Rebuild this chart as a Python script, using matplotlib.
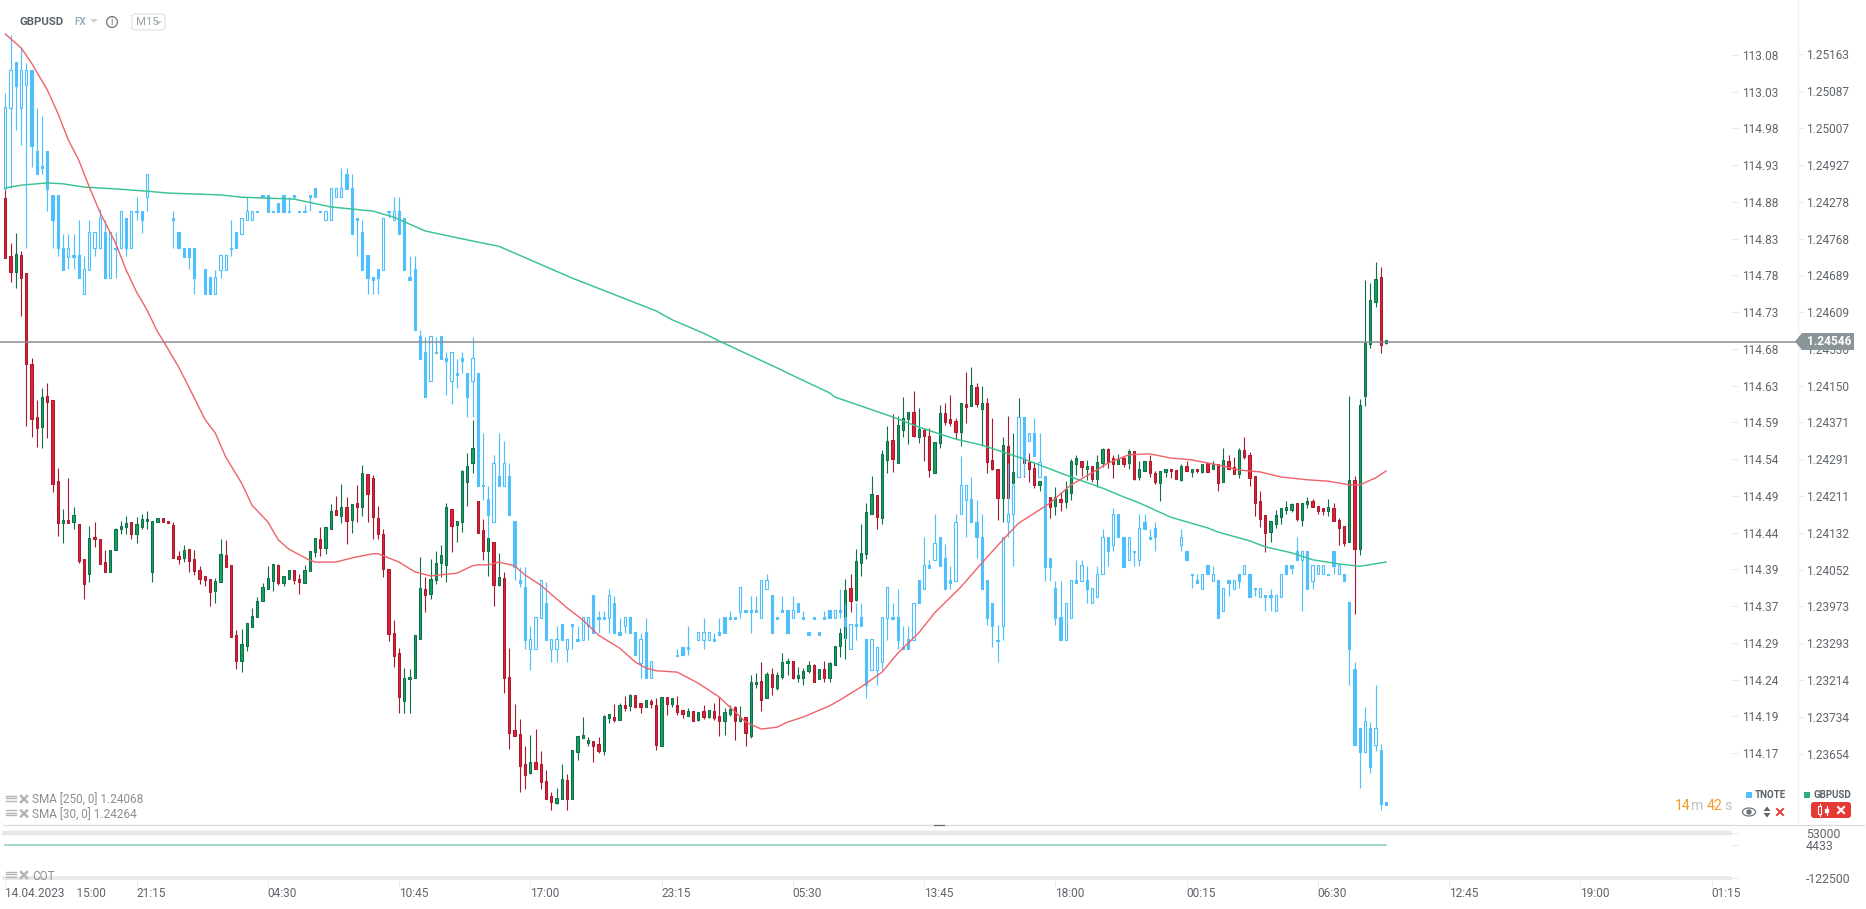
import numpy as np
import matplotlib
matplotlib.use('Agg')
import matplotlib.pyplot as plt
from matplotlib.patches import Polygon, Rectangle, FancyBboxPatch, Circle, Ellipse
from matplotlib.lines import Line2D
from matplotlib.transforms import IdentityTransform

plt.rcParams['font.family'] = ['Roboto', 'DejaVu Sans']

n = float('nan')

# GBPUSD M15, in points above 1.20000
gbp_high = [4874,4759,4781,4742,4694,4510,4419,4445,4456,4419,
4272,4184,4251,4188,4151,4076,4147,4156,4119,4095,
4095,4143,4158,4169,4156,4167,4173,4179,4158,4164,
4164,4158,4156,4093,4106,4097,4095,4061,4039,4032,
4035,4119,4117,4063,3922,3924,3937,3970,3994,4024,
4061,4065,4065,4039,4052,4052,4043,4063,4093,4121,
4145,4145,4195,4212,4238,4210,4195,4236,4279,4259,
4257,4190,4141,4054,3944,3883,3840,3838,3911,4080,
4037,4076,4093,4106,4197,4184,4158,4268,4305,4376,
4201,4162,4121,4112,4089,4048,3883,3762,3730,3671,
3695,3708,3660,3619,3572,3580,3632,3611,3663,3693,
3734,3691,3682,3691,3738,3740,3762,3764,3779,3784,
3782,3764,3771,3773,3775,3777,3777,3775,3779,3749,
3753,3747,3745,3760,3749,3764,3777,3753,3760,3758,
3758,3734,3825,3829,3853,3831,3840,3831,3872,3862,
3855,3842,3840,3855,3849,3838,3855,3853,3887,3926,
4032,4043,4097,4151,4197,4255,4214,4311,4363,4389,
4385,4426,4394,4439,4402,4359,4359,4329,4409,4413,
4430,4381,4413,4480,4491,4456,4450,4424,4381,4270,
4339,4385,4348,4424,4311,4305,4285,4244,4238,4210,
4231,4221,4244,4292,4301,4288,4290,4277,4301,4316,
4316,4301,4303,4298,4314,4309,4288,4288,4301,4266,
4266,4270,4270,4268,4281,4288,4270,4270,4281,4283,
4288,4281,4316,4301,4296,4316,4339,4307,4255,4223,
4171,4158,4182,4186,4201,4197,4197,4197,4210,4205,
4190,4186,4205,4197,4164,4147,4428,4255,4422,4679,
4672,4718,4707,4549]
gbp_top = [4856,4731,4735,4733,4694,4497,4383,4426,4428,4419,
4244,4160,4160,4171,4151,4076,4121,4123,4119,4069,
4095,4141,4147,4154,4156,4151,4162,4162,4158,4164,
4164,4158,4149,4082,4095,4097,4076,4052,4039,4032,
4028,4086,4084,4063,3911,3892,3937,3952,3985,4015,
4035,4065,4063,4039,4052,4052,4032,4052,4093,4121,
4119,4145,4180,4182,4188,4188,4195,4197,4262,4259,
4251,4164,4130,4054,3916,3872,3818,3821,3911,4013,
4011,4032,4067,4084,4188,4184,4158,4266,4277,4316,
4201,4138,4121,4112,4037,4035,3820,3706,3697,3632,
3637,3637,3632,3596,3563,3559,3600,3598,3663,3693,
3695,3684,3682,3676,3736,3740,3734,3760,3760,3782,
3782,3764,3771,3769,3760,3777,3777,3775,3760,3749,
3747,3747,3745,3747,3749,3747,3736,3745,3751,3756,
3734,3734,3810,3810,3812,3827,3827,3825,3853,3855,
3855,3825,3833,3846,3846,3838,3838,3851,3887,3916,
4009,4013,4071,4089,4177,4216,4214,4303,4331,4333,
4365,4381,4394,4394,4357,4355,4342,4329,4391,4391,
4378,4374,4413,4411,4452,4448,4413,4413,4290,4270,
4322,4320,4264,4383,4311,4285,4272,4244,4238,4210,
4210,4205,4227,4288,4294,4288,4277,4277,4285,4314,
4314,4294,4292,4294,4309,4309,4270,4288,4288,4262,
4266,4270,4270,4268,4277,4277,4270,4270,4281,4283,
4281,4281,4290,4288,4275,4311,4311,4301,4255,4201,
4171,4158,4171,4186,4188,4195,4197,4197,4201,4201,
4190,4186,4188,4186,4160,4147,4247,4247,4409,4543,
4636,4681,4685,4549]
gbp_bottom = [4727,4696,4696,4683,4497,4378,4359,4361,4415,4238,
4154,4154,4154,4156,4071,4022,4043,4119,4065,4048,
4048,4095,4141,4145,4130,4130,4145,4158,4048,4156,
4156,4154,4078,4076,4078,4071,4050,4032,4030,4004,
4006,4026,4058,3907,3855,3855,3888,3929,3950,3985,
4011,4028,4024,4024,4032,4030,4026,4024,4050,4091,
4099,4099,4141,4171,4169,4158,4160,4188,4188,4216,
4166,4130,4054,3913,3866,3777,3769,3816,3818,3903,
3998,4000,4030,4067,4063,4147,4149,4156,4242,4283,
4132,4093,4093,4019,4019,3818,3699,3693,3628,3609,
3613,3622,3593,3557,3550,3548,3557,3557,3557,3658,
3689,3678,3671,3660,3660,3732,3727,3727,3753,3758,
3756,3756,3756,3762,3673,3671,3762,3762,3745,3741,
3736,3725,3727,3734,3734,3732,3725,3725,3741,3725,
3725,3699,3693,3805,3771,3775,3799,3797,3820,3851,
3818,3818,3818,3833,3810,3816,3818,3818,3846,3887,
3905,3985,3987,4067,4086,4173,4166,4164,4290,4292,
4283,4355,4378,4342,4339,4342,4268,4262,4327,4372,
4370,4350,4350,4404,4407,4411,4400,4285,4270,4208,
4208,4208,4240,4333,4283,4270,4236,4236,4210,4188,
4190,4199,4199,4218,4281,4275,4270,4249,4249,4283,
4285,4281,4281,4281,4283,4249,4253,4266,4262,4242,
4240,4264,4266,4249,4247,4266,4264,4266,4264,4264,
4270,4240,4242,4270,4259,4259,4296,4251,4197,4162,
4132,4134,4151,4166,4182,4182,4162,4160,4195,4188,
4179,4179,4179,4158,4143,4110,4112,4097,4097,4428,
4541,4631,4538,4543]
gbp_low = [4727,4675,4662,4601,4363,4339,4318,4316,4337,4221,
4125,4110,4154,4141,4067,3989,4026,4102,4065,4048,
4048,4095,4130,4130,4119,4110,4141,4141,4026,4156,
4156,4154,4078,4065,4069,4048,4041,4022,4017,3974,
3980,4026,4058,3907,3838,3831,3877,3929,3950,3985,
4011,4006,4019,4017,4032,4022,4000,4024,4050,4080,
4082,4087,4141,4171,4154,4108,4132,4156,4169,4156,
4119,4119,4037,3898,3842,3743,3743,3743,3818,3903,
3961,3989,4022,4037,4026,4091,4113,4134,4190,4262,
4132,4074,4039,3974,4017,3786,3665,3693,3572,3578,
3611,3622,3578,3557,3533,3546,3557,3533,3557,3641,
3689,3671,3637,3656,3652,3721,3723,3727,3747,3747,
3753,3743,3756,3753,3663,3671,3738,3756,3738,3732,
3736,3725,3725,3730,3732,3727,3693,3695,3736,3684,
3723,3671,3689,3797,3747,3775,3782,3792,3816,3825,
3816,3810,3803,3829,3810,3816,3810,3810,3846,3864,
3859,3961,3985,4039,4076,4173,4141,4151,4262,4264,
4283,4339,4324,4339,4327,4288,4253,4262,4316,4365,
4363,4335,4320,4370,4407,4404,4320,4262,4268,4160,
4156,4208,4238,4333,4253,4242,4229,4223,4210,4164,
4171,4180,4186,4203,4257,4255,4247,4242,4231,4275,
4272,4251,4281,4275,4270,4247,4247,4266,4253,4238,
4201,4253,4251,4249,4244,4266,4253,4262,4262,4264,
4270,4223,4242,4270,4259,4251,4292,4234,4169,4145,
4091,4113,4143,4151,4173,4177,4158,4147,4186,4188,
4173,4171,4169,4158,4106,4104,4112,3957,4084,4407,
4532,4621,4521,4541]
gbp_dir = ("rrgrrrrgrr" "rgrgrrgrrr" "ggggrggggg" "rrrrgrrrrr" "ggrrrggggg"
           "ggrggrrggg" "rggrgrgrgr" "rrrrrrgggg" "rggggrgggg" "rrgrgrrrrr"
           "grrrrggrgg" "ggrrggrgrg" "rrgrrgrgrr" "grgrgrrggr" "grggrgrggg"
           "rgggrgrggg" "grggggrggr" "gggrgrrggr" "rrgrgrgrrr" "grggrrrggr"
           "grgggrgrgg" "rrgrgrggrr" "ggrrgrgrgr" "grgrrgrrrr" "rgggggrggr"
           "rrgrrrgrgg" "ggrg")

# TNOTE, in thousandths above 114, gaps where the market had no bar
tn_high = [1030,1109,1072,1092,1071,1061,1010,1000,952,893,
893,841,841,841,860,811,860,843,874,860,
843,843,872,862,872,891,872,922,n,n,
n,n,871,843,822,822,822,n,793,782,
792,812,812,860,843,862,891,872,872,893,
893,872,882,893,891,893,872,880,893,902,
872,872,902,902,930,930,921,862,860,812,
782,793,862,872,891,891,862,811,811,711,
702,703,702,703,682,682,672,682,653,702,
653,572,501,543,572,562,532,454,392,392,
313,324,374,372,295,313,315,295,315,313,
324,324,354,333,333,363,353,323,324,324,
304,303,323,265,n,n,n,n,282,284,
313,n,304,323,304,303,323,324,333,324,
365,334,353,353,374,382,354,324,353,334,
353,344,333,304,324,304,333,334,334,363,
343,315,343,343,295,295,284,324,365,343,
363,313,313,344,374,432,402,463,433,423,
393,463,542,503,513,482,463,374,344,314,
433,532,505,594,594,573,592,572,514,404,
373,373,344,374,402,402,393,364,393,443,
433,472,464,433,433,414,463,463,443,452,
n,n,n,n,443,414,383,382,383,394,
393,374,364,374,374,383,394,383,364,364,
354,363,354,383,394,394,432,414,414,394,
394,394,383,414,394,383,345,264,175,203,
183,233,154,75]
tn_top = [1011,1061,1072,1061,1061,1061,952,932,952,893,
893,822,822,812,812,793,843,843,862,843,
843,822,872,862,872,872,872,922,n,n,
n,n,862,843,822,822,822,n,793,782,
782,812,812,822,843,862,872,872,872,893,
893,872,882,893,872,893,872,872,893,902,
872,872,902,902,902,922,902,862,843,812,
782,793,862,872,872,872,862,782,793,703,
682,703,682,703,673,682,653,673,653,673,
653,503,483,532,515,532,515,454,374,365,
295,324,374,344,295,295,315,295,315,295,
324,324,354,324,324,354,344,304,324,324,
304,295,304,265,n,n,n,n,274,284,
284,n,304,304,304,295,304,324,324,324,
365,334,334,334,374,374,354,324,334,334,
334,344,324,304,324,304,324,334,334,334,
324,315,315,324,295,295,284,324,365,324,
324,284,295,344,374,394,394,424,433,404,
374,453,503,503,483,453,433,374,344,294,
433,464,503,594,594,573,573,533,514,404,
364,324,344,374,374,394,374,364,383,433,
433,464,464,433,433,414,444,453,433,444,
n,n,n,n,433,414,383,374,383,394,
383,374,364,374,374,383,394,383,364,364,
354,354,354,383,394,394,414,414,414,394,
394,394,383,414,394,383,345,255,175,185,
175,175,145,75]
tn_bottom = [901,1010,1040,1010,1041,959,921,929,901,860,
821,792,810,809,781,760,792,822,821,781,
781,820,821,821,821,870,860,891,n,n,
n,n,859,821,810,810,781,n,760,760,
760,792,792,820,821,841,860,860,870,890,
870,870,870,870,870,890,870,870,890,891,
870,860,860,891,891,901,841,859,792,781,
779,781,792,870,860,841,792,779,711,672,
621,642,680,672,670,642,650,670,621,642,
501,501,462,452,501,501,462,392,371,293,
282,282,323,293,282,282,293,282,312,292,
293,313,303,322,322,323,303,301,313,303,
273,262,243,243,n,n,n,n,272,273,
282,n,293,293,293,292,301,303,322,322,
332,331,331,331,323,363,303,322,331,303,
323,332,322,301,322,301,322,323,323,331,
313,282,312,313,233,253,253,264,323,322,
293,282,282,293,343,363,391,402,393,363,
371,373,463,482,452,432,363,323,313,292,
313,452,463,513,537,562,542,513,392,392,
323,293,293,323,371,373,363,343,352,382,
413,422,432,392,402,412,402,443,430,432,
n,n,n,n,422,402,381,371,363,382,
373,323,333,371,363,373,382,352,362,352,
351,351,333,352,382,391,402,402,363,373,
382,382,381,393,382,373,282,152,143,143,
123,152,73,71]
tn_low = [901,902,981,960,821,931,921,921,872,822,
811,792,793,793,781,760,792,811,821,781,
781,781,821,811,821,860,842,872,n,n,
n,n,821,821,810,793,760,n,760,760,
760,781,792,811,821,841,860,860,870,890,
870,870,870,870,870,890,870,870,872,891,
870,860,860,891,891,901,841,811,792,760,
760,760,792,862,860,841,792,779,711,672,
621,642,680,672,623,612,633,653,594,594,
501,482,431,452,501,501,462,374,365,282,
253,282,323,293,264,264,293,264,282,292,
293,293,303,303,322,303,303,301,303,303,
273,243,243,243,n,n,n,n,272,273,
273,n,293,282,293,292,301,303,322,322,
323,331,303,331,323,363,303,322,331,303,
323,332,322,301,322,301,322,323,323,323,
295,282,293,313,215,253,233,253,293,322,
282,282,282,293,343,363,391,402,393,363,
363,373,463,433,452,404,363,314,284,264,
294,433,393,513,514,562,542,513,373,373,
314,293,293,323,371,373,344,343,352,382,
393,413,432,392,402,393,393,443,430,414,
n,n,n,n,413,402,364,371,363,382,
373,323,333,353,363,364,382,352,353,352,
333,333,333,352,382,382,402,333,363,363,
382,382,381,382,382,373,233,152,94,143,
115,144,65,71]
tn_kind = ("hhfhhfffff" "ffhffhhhhf" "hfhfhffh--" "--fffff-ff" "hhhffhhhff"
           "ffffffffff" "fhhhhfffff" "ffhfhfffff" "fhfffhfffh" "fffhfhffff"
           "hhhfhhfhff" "hhfffhffhf" "fhfh----ff" "f-hhhfffff" "hfffhhffff"
           "hfffffffhf" "fhfffhhhhf" "fffhfhfhff" "fhhhffffff" "hhhhfhfhff"
           "ffhhfhfhhh" "fhffhfhfff" "----hfffhf" "hfhfhfhffh" "ffhhfffhfh"
           "hhffhffffh" "fhff")

# moving averages, bar number and value read at that bar
sma30_bar = [0,3,5,8,10,12,14,16,18,21,23,25,27,29,30,33,34,36,38,40,42,45,47,50,52,54,58,59,63,66,70,71,75,78,81,86,89,
             90,92,94,97,99,102,107,110,113,117,120,122,124,128,132,136,139,141,144,147,149,152,157,159,163,167,170,174,177,
             182,186,190,193,197,199,203,207,210,214,218,222,226,231,235,239,243,248,252,256,258,261,263]
sma30_val = [5211,5181,5148,5090,5040,4982,4938,4880,4826,4759,4701,4653,4614,4567,4549,4491,4469,4424,4378,4348,4296,4240,4192,4156,4117,4097,4073,4069,4069,4078,4087,4087,4069,4048,4039,4045,4061,
             4063,4063,4069,4061,4041,4019,3970,3944,3911,3883,3853,3840,3834,3831,3807,3777,3745,3723,3708,3712,3723,3734,3758,3771,3799,3831,3872,3916,3959,
             4015,4067,4117,4153,4182,4197,4236,4262,4283,4301,4303,4294,4290,4279,4268,4264,4253,4247,4244,4236,4236,4251,4266]
sma250_bar = [0,3,8,11,15,21,27,31,41,45,55,62,70,74,80,87,90,94,108,124,127,133,136,143,147,151,157,158,169,174,178,181,186,193,197,203,209,213,216,222,229,231,237,240,245,249,254,258,263]
sma250_val = [4878,4884,4889,4887,4880,4876,4871,4867,4863,4858,4854,4837,4828,4815,4785,4768,4761,4752,4683,4612,4593,4564,4547,4510,4489,4467,4435,4426,4383,4361,4346,4335,4322,4296,4279,4253,4229,4210,4197,4166,4143,4134,4115,4102,4089,4074,4065,4060,4069]

last_price = 1.24546

gbp_ticks = [1.25168,1.25087,1.25007,1.24927,1.24848,1.24768,1.24689,1.24609,1.24530,1.24450,
             1.24371,1.24291,1.24211,1.24132,1.24052,1.23973,1.23893,1.23814,1.23734,1.23654]
gbp_labels = ['1.25163','1.25087','1.25007','1.24927','1.24278','1.24768','1.24689','1.24609','1.24530','1.24150',
              '1.24371','1.24291','1.24211','1.24132','1.24052','1.23973','1.23293','1.23214','1.23734','1.23654']
tn_ticks = [115.082,115.032,114.983,114.933,114.884,114.834,114.785,114.735,114.686,114.636,
            114.587,114.537,114.488,114.438,114.389,114.339,114.290,114.240,114.191,114.141]
tn_labels = ['113.08','113.03','114.98','114.93','114.88','114.83','114.78','114.73','114.68','114.63',
             '114.59','114.54','114.49','114.44','114.39','114.37','114.29','114.24','114.19','114.17']

cot_value = 4433
cot_ticks = [53000, 4433, -122500]
time_ticks = [0,25,50,75,100,125,150,175,200,225,250,275,300,325]
time_labels = ['14.04.2023    15:00','21:15','04:30','10:45','17:00','23:15','05:30','13:45','18:00','00:15','06:30','12:45','19:00','01:15']

W, H = 1866, 909
fig = plt.figure(figsize=(W / 100, H / 100), dpi=100, facecolor='white')

def rect_px(left, top, right, bottom):
    return [left / W, 1 - bottom / H, (right - left) / W, (bottom - top) / H]

def xlim_px(right):
    return (-5.3 / 5.25, (right - 5.3) / 5.25)

TICK = '#e6e8ea'
LABEL = '#5f656b'

gbp_lim = (1.2 + 3498.3 / 1e5, 1.2 + 5284.5 / 1e5)
tn_lim = (114 + 43.1 / 1000, 114 + 1155.7 / 1000)

# three layers: GBPUSD, TNOTE on top of it, then the lines
ax_g = fig.add_axes(rect_px(0, 0, 1798, 826), zorder=1)
ax_t = fig.add_axes(rect_px(0, 0, 1732, 826), zorder=2)
ax_s = fig.add_axes(rect_px(0, 0, 1798, 826), zorder=3)
ax_c = fig.add_axes(rect_px(0, 826, 1732, 880), zorder=1)

g_x = np.arange(len(gbp_high))
g_hi = 1.2 + np.array(gbp_high) / 1e5
g_lo = 1.2 + np.array(gbp_low) / 1e5
g_top = 1.2 + np.array(gbp_top) / 1e5
g_bot = 1.2 + np.array(gbp_bottom) / 1e5
g_up = np.array([c == 'g' for c in gbp_dir])
g_face = np.where(g_up, '#15a064', '#e0213b')
g_edge = np.where(g_up, '#0f7048', '#aa1a2d')

ax_g.vlines(g_x, g_lo, g_hi, colors=g_edge, lw=0.8, zorder=1)
ax_g.bar(g_x, g_top - g_bot, bottom=g_bot, width=0.42, color=g_face, edgecolor=g_edge, linewidth=0.75, zorder=2)
ax_g.set_xlim(*xlim_px(1798))
ax_g.set_ylim(*gbp_lim)
ax_g.set_xticks([])
ax_g.yaxis.tick_right()
ax_g.set_yticks(gbp_ticks, gbp_labels)
ax_g.tick_params(axis='y', length=3.6, width=0.7, color=TICK, labelcolor=LABEL, labelsize=8.6, pad=2)
for side in ['top', 'left', 'bottom']:
    ax_g.spines[side].set_visible(False)
ax_g.spines['right'].set_color('#eef0f2')

blue = '#4fc0fb'
t_x = np.arange(len(tn_high))
t_hi = 114 + np.array(tn_high) / 1000
t_lo = 114 + np.array(tn_low) / 1000
t_top = 114 + np.array(tn_top) / 1000
t_bot = 114 + np.array(tn_bottom) / 1000
t_face = ['white' if k == 'h' else blue for k in tn_kind]

ax_t.patch.set_visible(False)
ax_t.vlines(t_x, t_lo, t_hi, colors=blue, lw=0.85, zorder=1)
ax_t.bar(t_x, t_top - t_bot, bottom=t_bot, width=0.42, color=t_face, edgecolor=blue, linewidth=0.8, zorder=2)
ax_t.set_xlim(*xlim_px(1732))
ax_t.set_ylim(*tn_lim)
ax_t.set_xticks([])
ax_t.yaxis.tick_right()
ax_t.set_yticks(tn_ticks, tn_labels)
ax_t.tick_params(axis='y', length=4.2, width=0.7, color=TICK, labelcolor=LABEL, labelsize=8.6, pad=2.8)
for s in ax_t.spines.values():
    s.set_visible(False)

ax_s.patch.set_visible(False)
ax_s.axis('off')
ax_s.set_xlim(*xlim_px(1798))
ax_s.set_ylim(*gbp_lim)
ax_s.axhline(last_price, color='#868e94', lw=1.1, zorder=1)
ax_s.plot(sma250_bar, 1.2 + np.array(sma250_val) / 1e5, color='#37c393', lw=1.05, zorder=2)
ax_s.plot(sma30_bar, 1.2 + np.array(sma30_val) / 1e5, color='#f0626a', lw=1.0, zorder=3)

# COT pane and the time axis under it
ax_c.set_xlim(*xlim_px(1732))
ax_c.set_ylim(-130300, 80300)
ax_c.hlines(cot_ticks[0], -0.6, 329, color='#e8e8e8', lw=3.2, zorder=1)
ax_c.hlines(cot_ticks[2], -0.6, 329, color='#e8e8e8', lw=3.3, zorder=1)
ax_c.plot([0, 263], [cot_value, cot_value], color='#8dd4b6', lw=1.2, zorder=2)
ax_c.yaxis.tick_right()
ax_c.set_yticks(cot_ticks, ['53000', '4433', '-122500'])
ax_c.tick_params(axis='y', length=4, width=0.7, color=TICK, labelcolor=LABEL, labelsize=8.8, pad=49)
ax_c.set_xticks(time_ticks, time_labels, ha='left')
ax_c.tick_params(axis='x', length=4.3, width=0.7, color=TICK, labelcolor=LABEL, labelsize=8.6, pad=0.5)
for s in ax_c.spines.values():
    s.set_visible(False)

# toolbar, tags and small controls are drawn in figure pixels
px = IdentityTransform()

def add_poly(pts, color, z=10):
    fig.add_artist(Polygon([(x, H - y) for x, y in pts], closed=True, color=color, lw=0, transform=px, zorder=z))

def add_line(x0, y0, x1, y1, color, lw=1.0, z=10):
    fig.add_artist(Line2D([x0, x1], [H - y0, H - y1], color=color, lw=lw, transform=px, zorder=z))

def add_text(x, y, s, color, size=8.6, weight='normal', ha='left', z=11):
    fig.text(x / W, 1 - y / H, s, color=color, fontsize=size, fontweight=weight, ha=ha, va='center', zorder=z)

add_text(20, 22, 'GBPUSD', '#5a636b', 8.2, 'bold')
add_text(74, 22, 'FX', '#9fb0bb', 7.2, 'bold')
add_poly([(90, 19), (98, 19), (94, 23)], '#cfd3d6')
fig.add_artist(Circle((112, H - 22), 5.4, fill=False, ec='#6d7479', lw=0.9, transform=px, zorder=10))
add_text(112, 22, 'i', '#6d7479', 7, ha='center')
fig.add_artist(FancyBboxPatch((132, H - 30), 33, 16, boxstyle='round,pad=0,rounding_size=3', fc='white', ec='#e2e4e6', lw=0.9, transform=px, zorder=10))
add_text(136, 22, 'M15', '#9aa1a6', 8.2)
add_poly([(155, 21), (162, 21), (158.5, 24.5)], '#c9cdd0')

# last price tag
add_poly([(1795, 341.5), (1802, 333), (1854, 333), (1854, 350), (1802, 350)], '#8b9599')
add_text(1806.5, 341.5, '1.24546', 'white', 8.6, 'bold')

# countdown
add_text(1675, 806, '14', '#f59a23', 10.2)
add_text(1691, 806, 'm', '#bdc1c4', 10.2)
add_text(1707, 806, '42', '#f59a23', 10.2)
add_text(1724, 806, 's', '#bdc1c4', 10.2)

# series legend
fig.add_artist(Rectangle((1746, H - 798), 6, 6, color=blue, lw=0, transform=px, zorder=10))
add_text(1755, 795, 'TNOTE', '#5a636b', 7, 'bold')
fig.add_artist(Rectangle((1804, H - 798), 6, 6, color='#27b077', lw=0, transform=px, zorder=10))
add_text(1813, 795, 'GBPUSD', '#5a636b', 7, 'bold')
fig.add_artist(Ellipse((1749, H - 812), 13, 8, fill=False, ec='#6d7479', lw=0.9, transform=px, zorder=10))
fig.add_artist(Circle((1749, H - 812), 2, color='#6d7479', transform=px, zorder=10))
add_poly([(1763.5, 811), (1770.5, 811), (1767, 806.5)], '#5f666b')
add_poly([(1763.5, 813), (1770.5, 813), (1767, 817.5)], '#5f666b')
add_line(1777, 809, 1783, 815, '#e53935', 1.4)
add_line(1783, 809, 1777, 815, '#e53935', 1.4)
fig.add_artist(FancyBboxPatch((1811, H - 818), 40, 16, boxstyle='round,pad=0,rounding_size=3', fc='#e53935', ec='none', transform=px, zorder=10))
add_line(1819.5, 804, 1819.5, 816, 'white', 0.8, 11)
fig.add_artist(Rectangle((1818, H - 814), 3, 8, fc='#e53935', ec='white', lw=0.8, transform=px, zorder=11))
add_line(1826.5, 806, 1826.5, 815, 'white', 0.8, 11)
fig.add_artist(Rectangle((1825, H - 812), 3, 3, color='white', transform=px, zorder=11))
add_line(1838, 807, 1844, 813, 'white', 1.5, 11)
add_line(1844, 807, 1838, 813, 'white', 1.5, 11)

# indicator rows bottom left
for row_y, row_text in [(799, 'SMA [250, 0] 1.24068'), (813.5, 'SMA [30, 0] 1.24264'), (875, 'COT')]:
    for k in range(3):
        add_line(6, row_y - 3.5 + k * 2.6, 16, row_y - 3.5 + k * 2.6, '#b4b4b4', 1.0)
    add_line(21, row_y - 3, 27, row_y + 3, '#b4b4b4', 1.8)
    add_line(27, row_y - 3, 21, row_y + 3, '#b4b4b4', 1.8)
    add_text(32, row_y + 1.5, row_text, '#8e8e8e', 8.5)

# pane separator
add_line(3, 825, 1864, 825, '#dcdcdc', 0.9, 5)
add_line(934, 825, 944, 825, '#6b6b6b', 0.9, 6)

fig.savefig('out.png', dpi=100, facecolor='white')
